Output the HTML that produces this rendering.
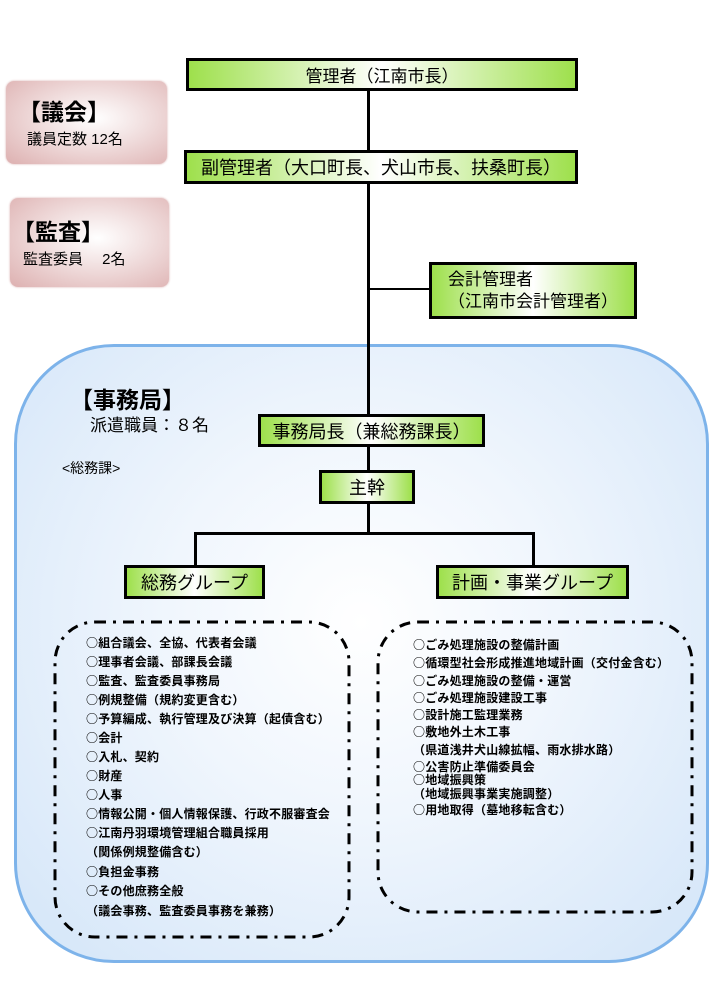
<!DOCTYPE html>
<html><head><meta charset="utf-8"><style>
body{margin:0;width:720px;height:998px;background:#fff;position:relative;overflow:hidden;font-family:"Liberation Sans","Noto Sans CJK JP",sans-serif;}
.a{position:absolute;box-sizing:border-box}
.g{border:3px solid #000;background:linear-gradient(90deg,#9ee04c 0%,#fff 50%,#9ee04c 100%);display:flex;align-items:center;justify-content:center;font-size:18px;color:#000;white-space:nowrap}
.p{border-radius:8px;background:radial-gradient(ellipse at 55% 45%,#fff 0%,#f3e4e4 35%,#ddb0b0 100%);box-shadow:0 0 2px #d9b0b0}
.l{position:absolute;background:#000}
.t{position:absolute;font-size:12px;font-weight:bold;white-space:nowrap;line-height:13px;font-family:"Noto Sans CJK JP",sans-serif;letter-spacing:0.2px}
</style></head><body>
<div class="a" style="left:14px;top:344px;width:695px;height:619px;border:3px solid #7db3ea;border-radius:100px;background:radial-gradient(ellipse at 50% 45%,#fff 0%,#f0f6fd 40%,#d3e5f8 100%)"></div>

<div class="a p" style="left:6px;top:81px;width:161px;height:83px"></div>
<div class="a" style="left:18px;top:93px;font-size:23px;font-weight:bold">【議会】</div>
<div class="a" style="left:27px;top:128px;font-size:15px">議員定数 12名</div>
<div class="a p" style="left:10px;top:198px;width:159px;height:89px"></div>
<div class="a" style="left:12px;top:213px;font-size:23px;font-weight:bold">【監査】</div>
<div class="a" style="left:23px;top:248px;font-size:15px">監査委員　 2名</div>

<div class="l" style="left:367px;top:90px;width:3px;height:381px"></div>
<div class="l" style="left:368px;top:288px;width:62px;height:2px"></div>
<div class="l" style="left:367px;top:503px;width:3px;height:31px"></div>
<div class="l" style="left:194px;top:532px;width:341px;height:3px"></div>
<div class="l" style="left:194px;top:532px;width:3px;height:34px"></div>
<div class="l" style="left:532px;top:532px;width:3px;height:34px"></div>

<div class="a g" style="left:186px;top:58px;width:392px;height:33px;font-size:17px">管理者（江南市長）</div>
<div class="a g" style="left:184px;top:150px;width:394px;height:34px">副管理者（大口町長、犬山市長、扶桑町長）</div>
<div class="a g" style="left:429px;top:262px;width:208px;height:57px;flex-direction:column;line-height:22px;font-size:17px">会計管理者<br>（江南市会計管理者）</div>
<div class="a g" style="left:258px;top:414px;width:227px;height:33px">事務局長（兼総務課長）</div>
<div class="a g" style="left:319px;top:470px;width:96px;height:34px">主幹</div>
<div class="a g" style="left:124px;top:565px;width:141px;height:34px">総務グループ</div>
<div class="a g" style="left:436px;top:565px;width:193px;height:34px">計画・事業グループ</div>

<div class="a" style="left:70px;top:381px;font-size:23px;font-weight:bold">【事務局】</div>
<div class="a" style="left:90px;top:411px;font-size:17px">派遣職員：８名</div>
<div class="a" style="left:62px;top:458px;font-size:14px">&lt;総務課&gt;</div>

<svg class="a" style="left:0;top:0" width="720" height="998">
<rect x="55" y="622" width="294" height="315" rx="40" fill="none" stroke="#000" stroke-width="3" stroke-dasharray="11 7 3 7"/>
<rect x="378" y="622" width="314" height="290" rx="40" fill="none" stroke="#000" stroke-width="3" stroke-dasharray="11 7 3 7"/>
</svg>

<div class="t" style="left:86px;top:636px">○組合議会、全協、代表者会議</div>
<div class="t" style="left:86px;top:655px">○理事者会議、部課長会議</div>
<div class="t" style="left:86px;top:674px">○監査、監査委員事務局</div>
<div class="t" style="left:86px;top:693px">○例規整備（規約変更含む）</div>
<div class="t" style="left:86px;top:712px">○予算編成、執行管理及び決算（起債含む）</div>
<div class="t" style="left:86px;top:731px">○会計</div>
<div class="t" style="left:86px;top:750px">○入札、契約</div>
<div class="t" style="left:86px;top:769px">○財産</div>
<div class="t" style="left:86px;top:788px">○人事</div>
<div class="t" style="left:86px;top:807px">○情報公開・個人情報保護、行政不服審査会</div>
<div class="t" style="left:86px;top:826px">○江南丹羽環境管理組合職員採用</div>
<div class="t" style="left:86px;top:845px">（関係例規整備含む）</div>
<div class="t" style="left:86px;top:865px">○負担金事務</div>
<div class="t" style="left:86px;top:884px">○その他庶務全般</div>
<div class="t" style="left:86px;top:904px">（議会事務、監査委員事務を兼務）</div>

<div class="t" style="left:413px;top:638px">○ごみ処理施設の整備計画</div>
<div class="t" style="left:413px;top:656px">○循環型社会形成推進地域計画（交付金含む）</div>
<div class="t" style="left:413px;top:674px">○ごみ処理施設の整備・運営</div>
<div class="t" style="left:413px;top:691px">○ごみ処理施設建設工事</div>
<div class="t" style="left:413px;top:708px">○設計施工監理業務</div>
<div class="t" style="left:413px;top:725px">○敷地外土木工事</div>
<div class="t" style="left:413px;top:743px">（県道浅井犬山線拡幅、雨水排水路）</div>
<div class="t" style="left:413px;top:760px">○公害防止準備委員会</div>
<div class="t" style="left:413px;top:773px">○地域振興策</div>
<div class="t" style="left:413px;top:787px">（地域振興事業実施調整）</div>
<div class="t" style="left:413px;top:803px">○用地取得（墓地移転含む）</div>
</body></html>
